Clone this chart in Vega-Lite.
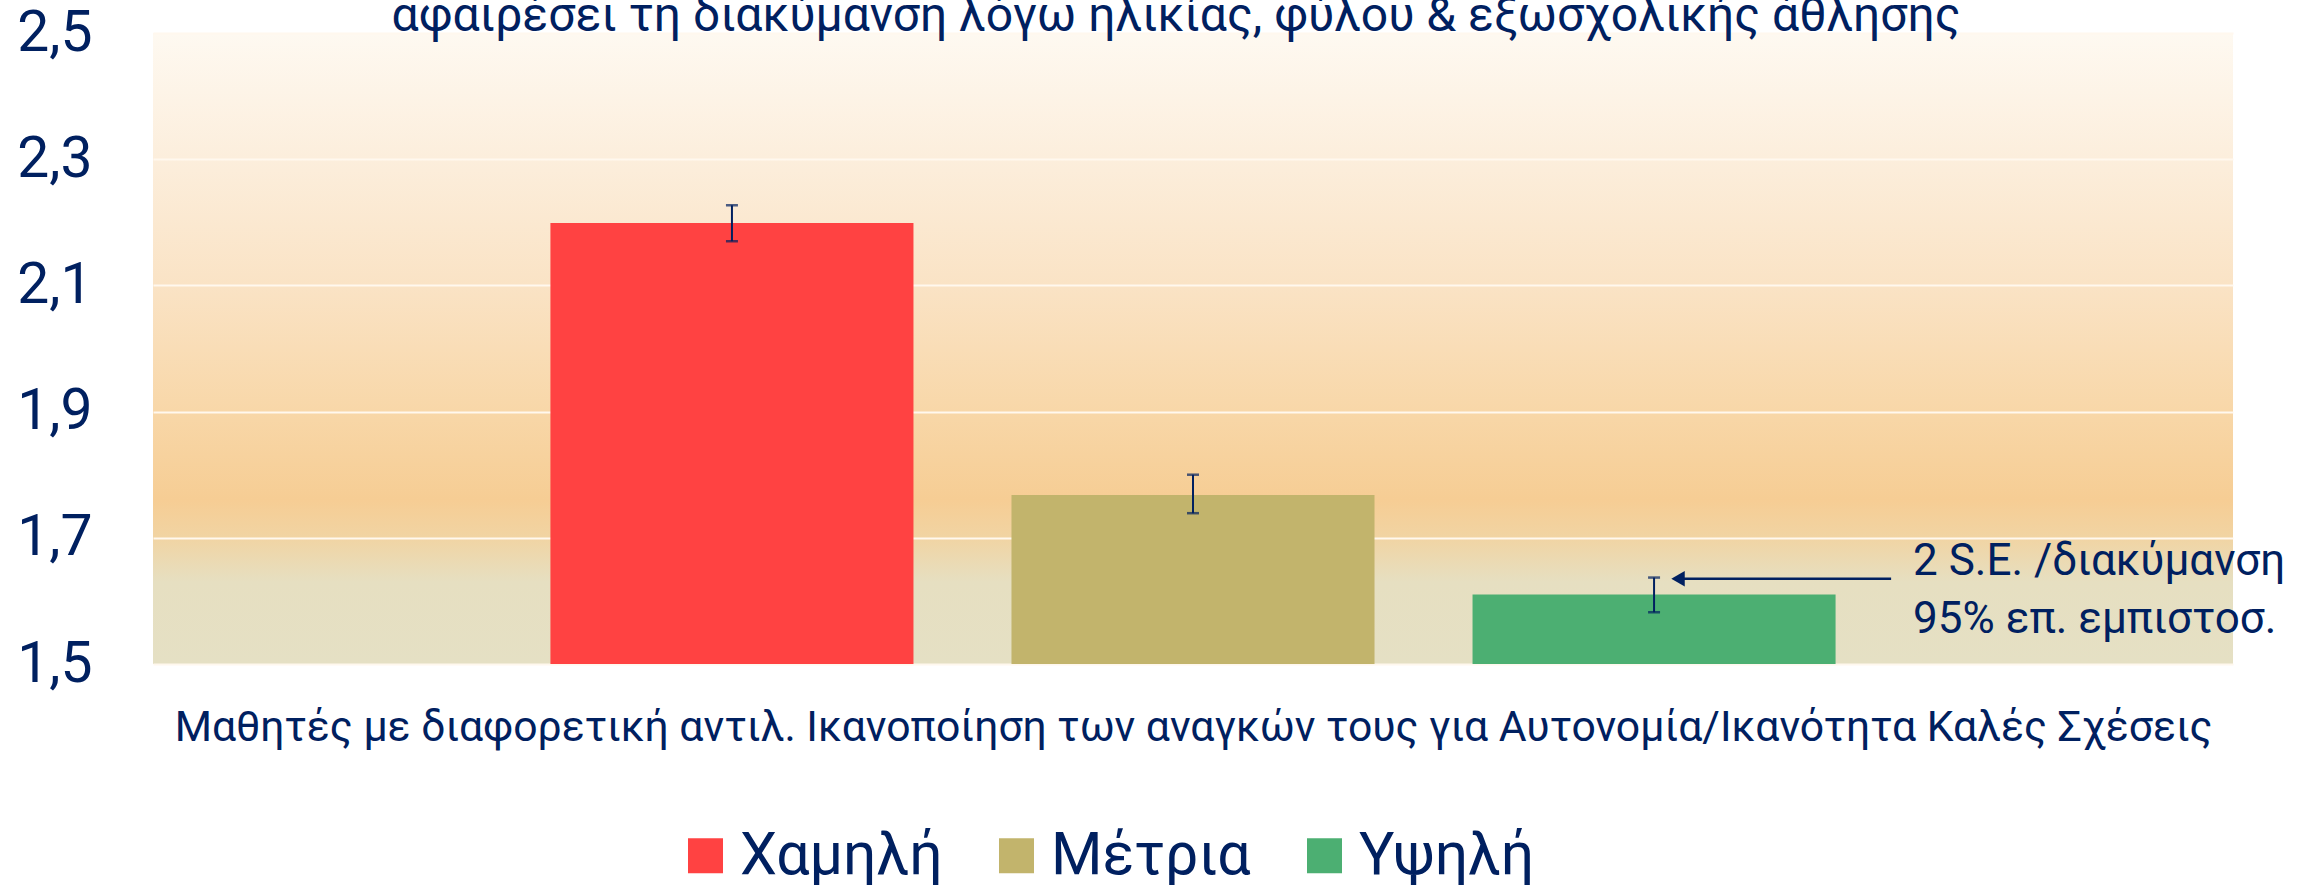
{
  "$schema": "https://vega.github.io/schema/vega-lite/v6.json",
  "width": 2080,
  "height": 631,
  "autosize": {"type": "none"},
  "padding": {"left": 153, "top": 33, "right": 68, "bottom": 221},
  "background": "white",
  "title": {
    "text": "αφαιρέσει τη διακύμανση λόγω ηλικίας, φύλου & εξωσχολικής άθλησης",
    "font": "Roboto",
    "fontSize": 48,
    "fontWeight": "normal",
    "color": "#002060",
    "anchor": "middle",
    "frame": "group",
    "baseline": "alphabetic",
    "offset": -32,
    "dx": -17,
    "dy": 43
  },
  "config": {
    "font": "Roboto",
    "view": {
      "stroke": null,
      "fill": {
        "gradient": "linear",
        "x1": 0, "y1": 0, "x2": 0, "y2": 1,
        "stops": [
          {"offset": 0, "color": "#FEF9F1"},
          {"offset": 0.2, "color": "#FCEEDC"},
          {"offset": 0.4, "color": "#FAE3C5"},
          {"offset": 0.6, "color": "#F8D7A8"},
          {"offset": 0.74, "color": "#F6CD94"},
          {"offset": 0.8, "color": "#F1D4A3"},
          {"offset": 0.87, "color": "#E6DFC1"},
          {"offset": 1, "color": "#E5E0C4"}
        ]
      }
    }
  },
  "datasets": {
    "bars": [
      {"group": "Χαμηλή", "mean": 2.199, "lo": 2.170, "hi": 2.227},
      {"group": "Μέτρια", "mean": 1.768, "lo": 1.739, "hi": 1.800},
      {"group": "Υψηλή", "mean": 1.610, "lo": 1.582, "hi": 1.637}
    ],
    "note": [
      {"group": "Υψηλή", "y": 1.635, "label": ["2 S.E. /διακύμανση", "95% επ. εμπιστοσ."]}
    ]
  },
  "layer": [
    {
      "data": {"name": "bars"},
      "mark": {"type": "bar"},
      "encoding": {
        "x": {
          "field": "group",
          "type": "nominal",
          "sort": null,
          "scale": {"domain": ["Χαμηλή", "Μέτρια", "Υψηλή"], "paddingInner": 0.2126, "paddingOuter": 0.862},
          "axis": {
            "labels": false,
            "ticks": false,
            "domain": false,
            "title": "Μαθητές με διαφορετική αντιλ. Ικανοποίηση των αναγκών τους για Αυτονομία/Ικανότητα Καλές Σχέσεις",
            "titleFont": "Roboto",
            "titleFontSize": 42.7,
            "titleFontWeight": "normal",
            "titleColor": "#002060",
            "titlePadding": 42
          }
        },
        "y": {
          "field": "mean",
          "type": "quantitative",
          "scale": {"domain": [1.5, 2.5], "zero": false, "nice": false},
          "axis": {
            "values": [1.5, 1.7, 1.9, 2.1, 2.3, 2.5],
            "format": ".1f",
            "labelExpr": "replace(datum.label, '.', ',')",
            "labelFont": "Roboto",
            "labelFontSize": 57,
            "labelColor": "#002060",
            "labelPadding": 61,
            "ticks": false,
            "domain": false,
            "grid": true,
            "gridColor": "#FFF8EE",
            "gridWidth": 2,
            "title": null
          }
        },
        "y2": {"datum": 1.5},
        "color": {
          "field": "group",
          "type": "nominal",
          "sort": null,
          "scale": {"domain": ["Χαμηλή", "Μέτρια", "Υψηλή"], "range": ["#FF4242", "#C2B46C", "#4CAF72"]},
          "legend": {
            "title": null,
            "orient": "none",
            "direction": "horizontal",
            "legendX": 523,
            "legendY": 793,
            "padding": 0,
            "symbolType": "square",
            "symbolSize": 1225,
            "symbolStrokeWidth": 0,
            "symbolOpacity": 1,
            "labelFont": "Roboto",
            "labelFontSize": 59,
            "labelColor": "#002060",
            "labelOffset": 5,
            "columnPadding": 44,
            "labelLimit": 0
          }
        }
      }
    },
    {
      "data": {"name": "bars"},
      "mark": {"type": "rule", "color": "#002060", "strokeWidth": 2},
      "encoding": {
        "x": {"field": "group", "type": "nominal", "sort": null},
        "y": {"field": "lo", "type": "quantitative"},
        "y2": {"field": "hi"}
      }
    },
    {
      "data": {"name": "bars"},
      "mark": {"type": "tick", "color": "#002060", "size": 12, "thickness": 2.5, "orient": "horizontal"},
      "encoding": {
        "x": {"field": "group", "type": "nominal", "sort": null},
        "y": {"field": "lo", "type": "quantitative"}
      }
    },
    {
      "data": {"name": "bars"},
      "mark": {"type": "tick", "color": "#002060", "size": 12, "thickness": 2.5, "orient": "horizontal"},
      "encoding": {
        "x": {"field": "group", "type": "nominal", "sort": null},
        "y": {"field": "hi", "type": "quantitative"}
      }
    },
    {
      "data": {"name": "note"},
      "mark": {"type": "rule", "color": "#002060", "strokeWidth": 2.5},
      "encoding": {
        "x": {"field": "group", "type": "nominal", "sort": null, "bandPosition": 0.577},
        "x2": {"field": "group", "bandPosition": 1.153},
        "y": {"field": "y", "type": "quantitative"}
      }
    },
    {
      "data": {"name": "note"},
      "mark": {"type": "point", "shape": "triangle-left", "size": 240, "filled": true, "color": "#002060", "opacity": 1},
      "encoding": {
        "x": {"field": "group", "type": "nominal", "sort": null, "bandPosition": 0.566},
        "y": {"field": "y", "type": "quantitative"}
      }
    },
    {
      "data": {"name": "note"},
      "mark": {"type": "text", "align": "left", "baseline": "middle", "font": "Roboto", "fontSize": 44, "lineHeight": 58, "dy": -17, "color": "#002060"},
      "encoding": {
        "x": {"field": "group", "type": "nominal", "sort": null, "bandPosition": 1.2135},
        "y": {"field": "y", "type": "quantitative"},
        "text": {"field": "label"}
      }
    }
  ]
}
